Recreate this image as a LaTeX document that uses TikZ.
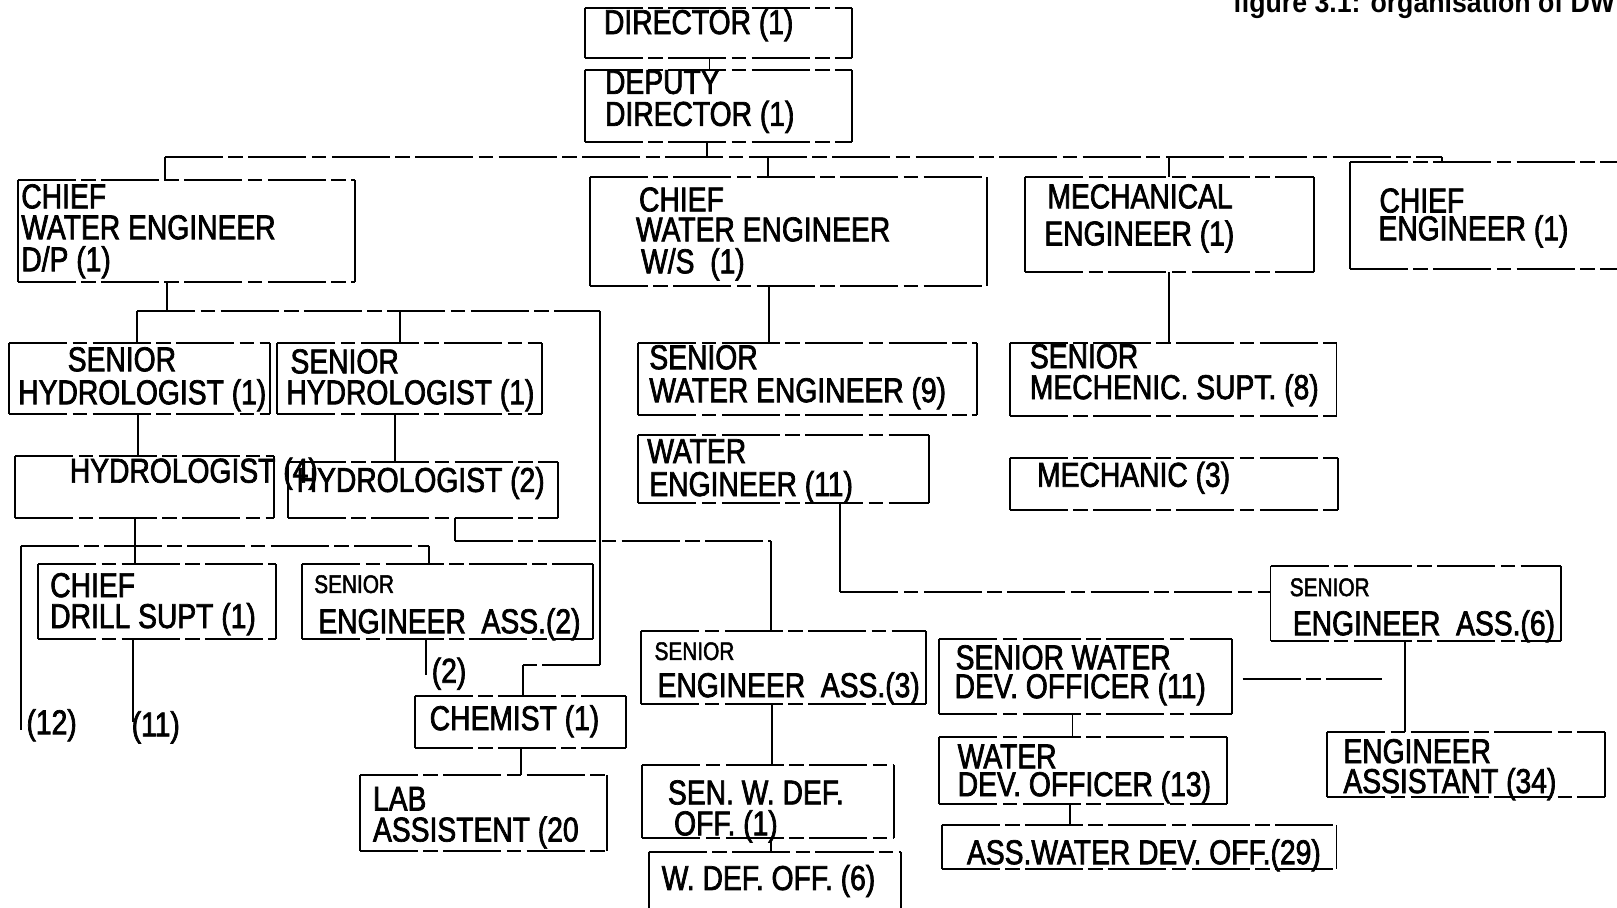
\documentclass[tikz,border=0pt]{standalone}
\usepackage{fontspec}
\setmainfont{Liberation Sans}[FakeStretch=0.82, FakeBold=2]
\newfontfamily\titlefont{Liberation Sans}[FakeStretch=0.92]
\usetikzlibrary{fit}
\tikzset{
  box/.style={inner sep=0pt, outer sep=0pt},
  vl/.style={line width=0.55pt},
  hl/.style={line width=0.55pt, dash pattern=on 16pt off 1.5pt on 4pt off 1.5pt},
  tx/.style={anchor=base west, inner sep=0pt, font=\fontsize{9.5}{10}\selectfont},
  sm/.style={anchor=base west, inner sep=0pt, font=\fontsize{7}{8}\selectfont},
}
\begin{document}
\begin{tikzpicture}[x=0.01cm, y=-0.01cm]
\useasboundingbox (0,0) rectangle (1568,880);
\fill[white] (0,0) rectangle (1568,880);
\clip (0,0) rectangle (1568,880);

% title
\node[anchor=base west, inner sep=0pt, font=\titlefont\bfseries\fontsize{8}{9}\selectfont] (title) at (1195,12) {figure 3.1: organisation of DW};

% boxes
\node[box, fit={(567,8) (826,56)}] (dir) {};
\node[box, fit={(567,68) (826,138)}] (dep) {};
\node[box, fit={(17,175) (344,273)}] (dp) {};
\node[box, fit={(572,172) (957,277)}] (ws) {};
\node[box, fit={(994,172) (1274,264)}] (me) {};
\node[box, fit={(1309,157) (1600,261)}] (ce) {};
\node[box, fit={(9,333) (262,401)}] (sh1) {};
\node[box, fit={(269,333) (526,401)}] (sh2) {};
\node[box, fit={(15,442) (266,502)}] (h4) {};
\node[box, fit={(279,448) (541,502)}] (h2) {};
\node[box, fit={(619,333) (947,402)}] (swe) {};
\node[box, fit={(619,422) (901,488)}] (we) {};
\node[box, fit={(979,333) (1296,403)}] (sms) {};
\node[box, fit={(979,444) (1297,495)}] (mec) {};
\node[box, fit={(37,547) (268,620)}] (cds) {};
\node[box, fit={(293,547) (575,620)}] (sea2) {};
\node[box, fit={(1232,549) (1514,622)}] (sea6) {};
\node[box, fit={(622,612) (898,683)}] (sea3) {};
\node[box, fit={(911,620) (1195,692)}] (swdo) {};
\node[box, fit={(911,715) (1190,780)}] (wdo) {};
\node[box, fit={(913,800) (1296,843)}] (awdo) {};
\node[box, fit={(1287,710) (1556,773)}] (ea) {};
\node[box, fit={(623,742) (867,813)}] (swdef) {};
\node[box, fit={(629,826) (874,900)}] (wdef) {};
\node[box, fit={(402,675) (607,725)}] (chem) {};
\node[box, fit={(349,752) (589,825)}] (lab) {};

\foreach \n in {dir,dep,dp,ws,me,ce,sh1,sh2,h4,h2,swe,we,sms,mec,cds,sea2,sea6,sea3,swdo,wdo,awdo,ea,swdef,wdef,chem,lab}{
  \draw[vl] (\n.north west) -- (\n.south west) (\n.north east) -- (\n.south east);
  \draw[hl] (\n.north west) -- (\n.north east) (\n.south west) -- (\n.south east);
}

% texts
\node[tx] (t-dir) at (585,33) {DIRECTOR (1)};
\node[tx] (t-dep1) at (586,91) {DEPUTY};
\node[tx] (t-dep2) at (586,122) {DIRECTOR (1)};
\node[tx] (t-dp1) at (20,202) {CHIEF};
\node[tx] (t-dp2) at (20,232) {WATER ENGINEER};
\node[tx] (t-dp3) at (20,263) {D/P (1)};
\node[tx] (t-ws1) at (619,205) {CHIEF};
\node[tx] (t-ws2) at (616,234) {WATER ENGINEER};
\node[tx] (t-ws3) at (621,265) {W/S~~(1)};
\node[tx] (t-me1) at (1015,202) {MECHANICAL};
\node[tx] (t-me2) at (1012,238) {ENGINEER (1)};
\node[tx] (t-ce1) at (1337,206) {CHIEF};
\node[tx] (t-ce2) at (1336,233) {ENGINEER (1)};
\node[tx] (t-sh1a) at (65,360) {SENIOR};
\node[tx] (t-sh1b) at (17,392) {HYDROLOGIST (1)};
\node[tx] (t-sh2a) at (281,362) {SENIOR};
\node[tx] (t-sh2b) at (277,392) {HYDROLOGIST (1)};
\node[tx] (t-h4) at (67,468) {HYDROLOGIST (4)};
\node[tx] (t-h2) at (287,477) {HYDROLOGIST (2)};
\node[tx] (t-swe1) at (629,358) {SENIOR};
\node[tx] (t-swe2) at (629,390) {WATER ENGINEER (9)};
\node[tx] (t-we1) at (627,449) {WATER};
\node[tx] (t-we2) at (629,481) {ENGINEER (11)};
\node[tx] (t-sms1) at (998,357) {SENIOR};
\node[tx] (t-sms2) at (998,387) {MECHENIC. SUPT. (8)};
\node[tx] (t-mec) at (1005,472) {MECHANIC (3)};
\node[tx] (t-cds1) at (48,579) {CHIEF};
\node[tx] (t-cds2) at (48,609) {DRILL SUPT (1)};
\node[sm] (t-sea2a) at (304,575) {SENIOR};
\node[tx] (t-sea2b) at (308,614) {ENGINEER~~ASS.(2)};
\node[sm] (t-sea6a) at (1250,578) {SENIOR};
\node[tx] (t-sea6b) at (1253,616) {ENGINEER~~ASS.(6)};
\node[sm] (t-sea3a) at (634,640) {SENIOR};
\node[tx] (t-sea3b) at (637,676) {ENGINEER~~ASS.(3)};
\node[tx] (t-swdo1) at (926,649) {SENIOR WATER};
\node[tx] (t-swdo2) at (925,677) {DEV. OFFICER (11)};
\node[tx] (t-wdo1) at (928,745) {WATER};
\node[tx] (t-wdo2) at (928,772) {DEV. OFFICER (13)};
\node[tx] (t-awdo) at (937,838) {ASS.WATER DEV. OFF.(29)};
\node[tx] (t-ea1) at (1302,740) {ENGINEER};
\node[tx] (t-ea2) at (1302,769) {ASSISTANT (34)};
\node[tx] (t-swdef1) at (647,780) {SEN. W. DEF.};
\node[tx] (t-swdef2) at (653,810) {OFF. (1)};
\node[tx] (t-wdef) at (641,863) {W. DEF. OFF. (6)};
\node[tx] (t-chem) at (416,708) {CHEMIST (1)};
\node[tx] (t-lab1) at (361,786) {LAB};
\node[tx] (t-lab2) at (361,816) {ASSISTENT (20};

% connectors: top
\draw[vl] (dir.south -| 688,0) -- (dep.north -| 688,0);
\coordinate (tb) at (686,152);
\coordinate (tbL) at (160,152);
\coordinate (tbR) at (1398,152);
\coordinate (tbW) at (745,152);
\coordinate (tbM) at (1134,152);
\draw[vl] (dep.south -| tb) -- (tb);
\draw[hl] (tbL) -- (tbR);
\draw[vl] (tbL) -- (dp.north -| tbL);
\draw[vl] (tbW) -- (ws.north -| tbW);
\draw[vl] (tbM) -- (me.north -| tbM);
\draw[vl] (tbR) -- (ce.north -| tbR);

% D/P branch
\coordinate (db) at (162,302);
\coordinate (dbL) at (133,302);
\coordinate (dbS) at (388,302);
\coordinate (dbR) at (582,302);
\coordinate (cj1) at (582,645);
\coordinate (cj2) at (507,645);
\draw[vl] (dp.south -| db) -- (db);
\draw[hl] (dbL) -- (dbR);
\draw[vl] (dbL) -- (sh1.north -| dbL);
\draw[vl] (dbS) -- (sh2.north -| dbS);
\draw[vl] (dbR) -- (cj1);
\draw[hl] (cj1) -- (cj2);
\draw[vl] (cj2) -- (chem.north -| cj2);
\draw[vl] (sh1.south -| 134,0) -- (h4.north -| 134,0);
\draw[vl] (sh2.south -| 383,0) -- (h2.north -| 383,0);
\draw[vl] (h4.south -| 131,0) -- (cds.north -| 131,0);
\coordinate (hbL) at (20,529);
\coordinate (hbR) at (416,529);
\coordinate (e12) at (20,708);
\draw[hl] (hbL) -- (hbR);
\draw[vl] (hbL) -- (e12);
\draw[vl] (hbR) -- (sea2.north -| hbR);
\node[tx] (l12) at (25,712) {(12)};
\coordinate (e11) at (129,700);
\draw[vl] (cds.south -| e11) -- (e11);
\node[tx] (l11) at (127,714) {(11)};
\coordinate (e2) at (413,655);
\draw[vl] (sea2.south -| e2) -- (e2);
\node[tx] (l2) at (418,662) {(2)};
\coordinate (k1) at (441,525);
\coordinate (k2) at (748,525);
\draw[vl] (h2.south -| k1) -- (k1);
\draw[hl] (k1) -- (k2);
\draw[vl] (k2) -- (sea3.north -| k2);
\draw[vl] (chem.south -| 505,0) -- (lab.north -| 505,0);

% W/S branch
\draw[vl] (ws.south -| 746,0) -- (swe.north -| 746,0);
\coordinate (w1) at (815,574);
\draw[vl] (we.south -| w1) -- (w1);
\draw[hl] (w1) -- (sea6.west |- w1);
\draw[vl] (sea6.south -| 1362,0) -- (ea.north -| 1362,0);
\draw[vl] (sea3.south -| 749,0) -- (swdef.north -| 749,0);
\draw[vl] (swdef.south -| 748,0) -- (wdef.north -| 748,0);
\draw[vl] (swdo.south -| 1040,0) -- (wdo.north -| 1040,0);
\draw[vl] (wdo.south -| 1038,0) -- (awdo.north -| 1038,0);
\coordinate (st) at (1340,658);
\draw[hl] (swdo.east |- st) ++(10,0) -- (st);

% mechanical branch
\draw[vl] (me.south -| 1134,0) -- (sms.north -| 1134,0);
\end{tikzpicture}
\end{document}
